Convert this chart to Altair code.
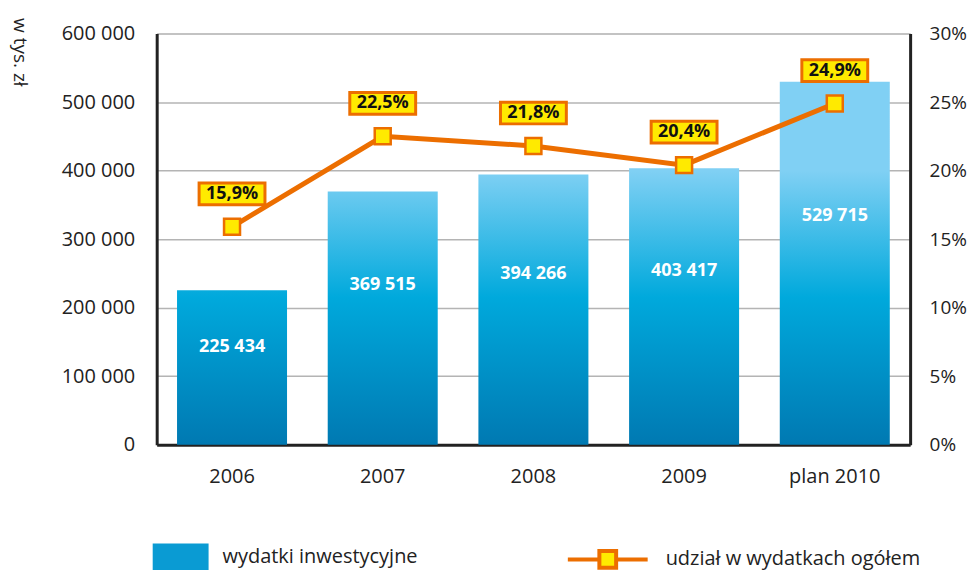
import altair as alt
import pandas as pd

years = ["2006", "2007", "2008", "2009", "plan 2010"]
spending = [225434, 369515, 394266, 403417, 529715]
share = [15.9, 22.5, 21.8, 20.4, 24.9]
bar_series = "wydatki inwestycyjne"
line_series = "udział w wydatkach ogółem"

df = pd.DataFrame({"year": years, "value": spending, "pct": share,
                   "s1": bar_series, "s2": line_series})

ORANGE = "#ec6e00"
YELLOW = "#ffea00"
FONT = "Open Sans"

# absolute vertical gradient (value -> colour)
grad_stops = [(0, "#0079b2"), (215000, "#00a9dc"), (400000, "#80d0f4")]


def hex2rgb(h):
    return [int(h[i:i + 2], 16) for i in (1, 3, 5)]


def colour_at(v):
    for (a, ca), (b, cb) in zip(grad_stops[:-1], grad_stops[1:]):
        if a <= v <= b:
            t = (v - a) / (b - a)
            r = [round(x + (y - x) * t) for x, y in zip(hex2rgb(ca), hex2rgb(cb))]
            return "#%02x%02x%02x" % tuple(r)
    return grad_stops[-1][1]


def bar_gradient(v):
    stops = [alt.GradientStop(offset=0, color=colour_at(v))]
    for s, c in reversed(grad_stops):
        if 0 < s < v:
            stops.append(alt.GradientStop(offset=1 - s / v, color=c))
    stops.append(alt.GradientStop(offset=1, color=grad_stops[0][1]))
    return alt.Gradient(gradient="linear", stops=stops, x1=0, x2=0, y1=0, y2=1)


base = alt.Chart(df)
xenc = alt.X("year:N", sort=years, title=None,
             scale=alt.Scale(paddingInner=0.27, paddingOuter=0.135),
             axis=alt.Axis(labelFontSize=20, labelFont=FONT, labelColor="#222",
                           labelPadding=22, ticks=False, domainColor="#222",
                           domainWidth=3, labelAngle=0, grid=False))

yleft = alt.Y("value:Q", scale=alt.Scale(domain=[0, 600000]),
              axis=alt.Axis(title="w tys. zł", titleAngle=90, titleX=-147, titleY=-16,
                            titleAlign="left", titleBaseline="bottom",
                            titleFont=FONT, titleFontSize=19, titleFontWeight="normal",
                            titleColor="#222",
                            values=[0, 100000, 200000, 300000, 400000, 500000, 600000],
                            labelExpr="replace(format(datum.value, ','), ',', ' ')",
                            labelFontSize=20, labelFont=FONT, labelColor="#222",
                            labelPadding=22, ticks=False, domainColor="#222",
                            domainWidth=3, gridColor="#b4b4b4", gridWidth=1.5))

bar_layers = []
for i, (yr, v) in enumerate(zip(years, spending)):
    bar_layers.append(
        base.transform_filter(alt.datum.year == yr)
        .mark_bar(color=bar_gradient(v))
        .encode(x=xenc, y=yleft if i == 0 else alt.Y("value:Q"))
    )

bar_text = base.transform_calculate(
    lbl="replace(format(datum.value, ','), ',', ' ')",
    mid="datum.value * 0.63",
).mark_text(font=FONT, fontSize=18, fontWeight="bold", color="white").encode(
    x=alt.X("year:N", sort=years), y=alt.Y("mid:Q"), text="lbl:N")

bar_legend = base.transform_filter(alt.datum.year == "2006").mark_point(
    filled=True, opacity=0).encode(
    x=alt.X("year:N", sort=years), y=alt.Y("value:Q"),
    color=alt.Color("s1:N", scale=alt.Scale(domain=[bar_series], range=["#0a9bd3"]),
                    legend=alt.Legend(title=None, orient="none", legendX=-4, legendY=497,
                                      symbolType="M-1,-0.5H1V0.5H-1Z", symbolSize=3136,
                                      symbolOpacity=1, symbolStrokeWidth=0,
                                      labelFont=FONT, labelFontSize=20, labelColor="#222",
                                      labelOffset=14, labelLimit=0)))

left_group = alt.layer(*bar_layers, bar_text, bar_legend)

yright = alt.Y("pct:Q", scale=alt.Scale(domain=[0, 30]),
               axis=alt.Axis(orient="right", title=None, values=[0, 5, 10, 15, 20, 25, 30],
                             labelExpr="datum.value + '%'", labelFontSize=19, labelFont=FONT,
                             labelColor="#222", labelPadding=19, ticks=False,
                             domainColor="#222", domainWidth=3, grid=False))

line = base.mark_line(color=ORANGE, strokeWidth=5).encode(
    x=alt.X("year:N", sort=years), y=yright)

points = base.mark_point(shape="square", filled=False, fill=YELLOW, size=256,
                         strokeWidth=2.5, opacity=1).encode(
    x=alt.X("year:N", sort=years), y=alt.Y("pct:Q"),
    color=alt.Color("s2:N", scale=alt.Scale(domain=[line_series], range=[ORANGE]),
                    legend=alt.Legend(title=None, orient="none", legendX=410, legendY=485,
                                      symbolType="M-1,0H-0.21M0.21,0H1M-0.21,-0.21H0.21V0.21H-0.21Z",
                                      symbolSize=6400, symbolStrokeWidth=4,
                                      symbolFillColor=YELLOW, symbolStrokeColor=ORANGE,
                                      labelFont=FONT, labelFontSize=20, labelColor="#222",
                                      labelOffset=16, labelLimit=0)))

boxes = base.mark_point(shape="M-1,-0.33H1V0.33H-1Z", filled=True, fill=YELLOW,
                        stroke=ORANGE, strokeWidth=3, size=4356, opacity=1,
                        yOffset=-33).encode(
    x=alt.X("year:N", sort=years), y=alt.Y("pct:Q"))

box_text = base.transform_calculate(
    plbl="replace(format(datum.pct, '.1f'), '.', ',') + '%'"
).mark_text(font=FONT, fontSize=18, fontWeight="bold", color="#111", yOffset=-33).encode(
    x=alt.X("year:N", sort=years), y=alt.Y("pct:Q"), text="plbl:N")

right_group = alt.layer(line, points, boxes, box_text)

chart = alt.layer(left_group, right_group).resolve_scale(
    y="independent", color="independent"
).resolve_legend(color="independent").properties(
    width=755, height=412,
    autosize=alt.AutoSizeParams(type="none"),
    padding={"left": 149, "top": 25, "right": 58, "bottom": 150},
).configure_view(stroke=None).configure(background="white")

chart.save("out.html", embed_options={"renderer": "svg", "actions": False})
